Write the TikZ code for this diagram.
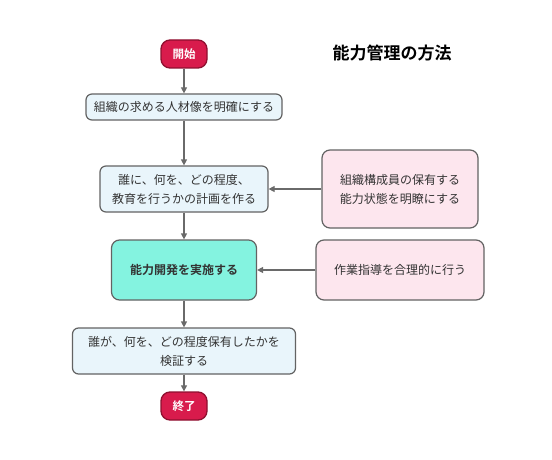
\documentclass[tikz,border=0pt]{standalone}
\usepackage{fontspec}
\setmainfont{Noto Sans CJK JP}
\newfontfamily\jpb{Noto Sans CJK JP Bold}
\usetikzlibrary{arrows.meta,positioning}
\definecolor{termfill}{HTML}{D81B4C}
\definecolor{termline}{HTML}{8E1030}
\definecolor{procfill}{HTML}{E9F5FB}
\definecolor{aquafill}{HTML}{84F3E0}
\definecolor{pinkfill}{HTML}{FDE6EE}
\definecolor{boxline}{HTML}{636363}
\definecolor{arrowc}{HTML}{6A6A6A}
\tikzset{
  term/.style={draw=termline, line width=1.3pt, fill=termfill, rounded corners=9pt, minimum width=46pt, minimum height=28pt, text=white, font=\jpb\fontsize{11.5}{13}\selectfont, inner sep=0pt},
  proc/.style={draw=boxline, line width=1.2pt, fill=procfill, rounded corners=6pt, align=center, font=\fontsize{12}{19}\selectfont, inner sep=0pt, text=black!80},
  aqua/.style={proc, fill=aquafill, font=\jpb\fontsize{12}{19}\selectfont, rounded corners=8pt},
  pink/.style={proc, fill=pinkfill, rounded corners=8pt},
  arr/.style={draw=arrowc, line width=1.2pt, -{Triangle[length=6pt,width=6pt]}}
}
\begin{document}
\begin{tikzpicture}[x=1pt,y=-1pt]
\useasboundingbox[fill=white] (0,0) rectangle (552,460);
\node[term] (start) at (184,54) {開始};
\node[proc, minimum width=196pt, minimum height=26pt] (b1) at (184,107) {組織の求める人材像を明確にする};
\node[proc, minimum width=168pt, minimum height=46pt] (b2) at (184,189) {誰に、何を、どの程度、\\教育を行うかの計画を作る};
\node[aqua, minimum width=145pt, minimum height=60pt] (b3) at (184,270) {能力開発を実施する};
\node[proc, minimum width=223pt, minimum height=46pt] (b4) at (184,351) {誰が、何を、どの程度保有したかを\\検証する};
\node[term] (end) at (184,406) {終了};
\node[pink, minimum width=156pt, minimum height=78pt] (r1) at (400,189) {組織構成員の保有する\\能力状態を明瞭にする};
\node[pink, minimum width=168pt, minimum height=60pt] (r2) at (400,270) {作業指導を合理的に行う};
\node[font=\jpb\fontsize{17}{19}\selectfont] (title) at (392,53) {能力管理の方法};
\draw[arr] (start) -- (b1);
\draw[arr] (b1) -- (b2);
\draw[arr] (b2) -- (b3);
\draw[arr] (b3) -- (b4);
\draw[arr] (b4) -- (end);
\draw[arr] (r1) -- (b2);
\draw[arr] (r2) -- (b3);
\end{tikzpicture}
\end{document}
